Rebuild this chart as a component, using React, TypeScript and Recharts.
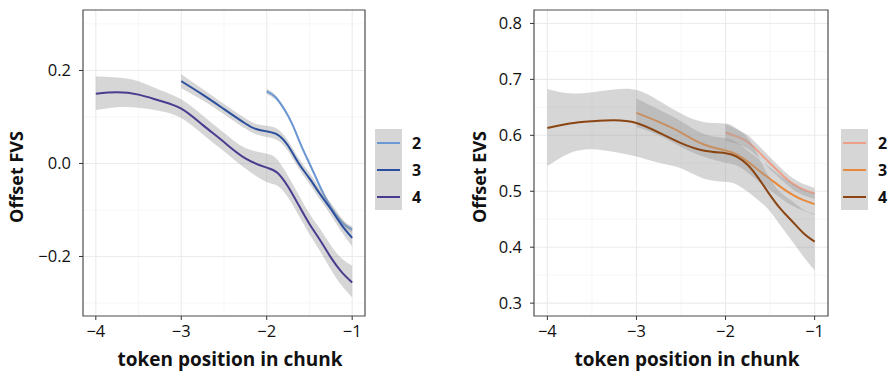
import { ComposedChart, Area, Line, XAxis, YAxis, CartesianGrid, ReferenceArea } from 'recharts'

// ---- left panel (FVS) ----
const fvs4X = [-4, -3.75, -3.5, -3.25, -3, -2.75, -2.5, -2.25, -2, -1.875, -1.75, -1.625, -1.5, -1.375, -1.25, -1.125, -1]
const fvs4Y = [0.15, 0.153, 0.148, 0.135, 0.118, 0.083, 0.046, 0.011, -0.009, -0.02, -0.05, -0.09, -0.13, -0.165, -0.202, -0.233, -0.256]
const fvs4Lo = [0.115, 0.121, 0.12, 0.113, 0.098, 0.063, 0.026, -0.011, -0.04, -0.048, -0.073, -0.112, -0.152, -0.189, -0.228, -0.262, -0.288]
const fvs4Hi = [0.187, 0.185, 0.177, 0.158, 0.138, 0.103, 0.066, 0.033, 0.021, 0.008, -0.027, -0.068, -0.108, -0.141, -0.176, -0.204, -0.22]

const fvs3X = [-3, -2.75, -2.5, -2.25, -2.125, -2, -1.875, -1.75, -1.625, -1.5, -1.375, -1.25, -1.125, -1]
const fvs3Y = [0.177, 0.148, 0.117, 0.086, 0.074, 0.069, 0.062, 0.038, 0.0, -0.032, -0.066, -0.098, -0.132, -0.16]
const fvs3Lo = [0.162, 0.136, 0.106, 0.075, 0.063, 0.057, 0.05, 0.027, -0.011, -0.044, -0.078, -0.111, -0.147, -0.178]
const fvs3Hi = [0.192, 0.16, 0.128, 0.097, 0.085, 0.081, 0.074, 0.049, 0.011, -0.02, -0.054, -0.085, -0.117, -0.142]

const fvs2X = [-2, -1.9, -1.8, -1.7, -1.6, -1.5, -1.4, -1.3, -1.2, -1.1, -1]
const fvs2Y = [0.155, 0.143, 0.118, 0.084, 0.04, 0.0, -0.04, -0.078, -0.108, -0.13, -0.142]
const fvs2Lo = [0.149, 0.138, 0.114, 0.08, 0.036, -0.004, -0.044, -0.082, -0.113, -0.136, -0.149]
const fvs2Hi = [0.161, 0.148, 0.122, 0.088, 0.044, 0.004, -0.036, -0.074, -0.103, -0.124, -0.135]

// ---- right panel (EVS) ----
const evs4X = [-4, -3.75, -3.5, -3.25, -3, -2.75, -2.5, -2.25, -2, -1.875, -1.75, -1.625, -1.5, -1.375, -1.25, -1.125, -1]
const evs4Y = [0.613, 0.621, 0.625, 0.627, 0.622, 0.605, 0.586, 0.573, 0.568, 0.562, 0.547, 0.522, 0.493, 0.467, 0.446, 0.425, 0.41]
const evs4Lo = [0.545, 0.568, 0.575, 0.57, 0.562, 0.551, 0.541, 0.523, 0.517, 0.512, 0.499, 0.483, 0.464, 0.437, 0.41, 0.383, 0.359]
const evs4Hi = [0.683, 0.675, 0.677, 0.682, 0.681, 0.662, 0.639, 0.624, 0.621, 0.612, 0.595, 0.561, 0.522, 0.497, 0.482, 0.467, 0.46]

const evs3X = [-3, -2.75, -2.5, -2.25, -2, -1.875, -1.75, -1.625, -1.5, -1.375, -1.25, -1.125, -1]
const evs3Y = [0.64, 0.624, 0.605, 0.584, 0.573, 0.566, 0.553, 0.537, 0.522, 0.507, 0.494, 0.484, 0.477]
const evs3Lo = [0.615, 0.6, 0.579, 0.562, 0.551, 0.546, 0.533, 0.517, 0.502, 0.487, 0.474, 0.465, 0.458]
const evs3Hi = [0.666, 0.646, 0.625, 0.603, 0.595, 0.587, 0.573, 0.557, 0.542, 0.527, 0.514, 0.503, 0.496]

const evs2X = [-2, -1.875, -1.75, -1.625, -1.5, -1.375, -1.25, -1.125, -1]
const evs2Y = [0.605, 0.598, 0.588, 0.57, 0.55, 0.531, 0.514, 0.503, 0.496]
const evs2Lo = [0.59, 0.585, 0.576, 0.559, 0.539, 0.521, 0.504, 0.493, 0.486]
const evs2Hi = [0.62, 0.611, 0.6, 0.581, 0.561, 0.541, 0.524, 0.513, 0.506]

const xTicks = [-4, -3, -2, -1]
const xMinor = [-3.5, -2.5, -1.5]
const fvsTicks = [-0.2, 0, 0.2]
const fvsMinor = [-0.3, -0.1, 0.1, 0.3]
const evsTicks = [0.3, 0.4, 0.5, 0.6, 0.7, 0.8]
const evsMinor = [0.35, 0.45, 0.55, 0.65, 0.75]
const legendLabels = ['2', '3', '4']
const blues = ['#6b97d4', '#2b4f9e', '#4b3b8f']
const oranges = ['#ee9f88', '#e8893c', '#8b4513']

const build = (xs: number[], ys: number[], lo: number[], hi: number[]) =>
  xs.map((x, i) => ({ x, y: ys[i], band: [lo[i], hi[i]] }))

const fvsSeries = [
  build(fvs2X, fvs2Y, fvs2Lo, fvs2Hi),
  build(fvs3X, fvs3Y, fvs3Lo, fvs3Hi),
  build(fvs4X, fvs4Y, fvs4Lo, fvs4Hi),
]
const evsSeries = [
  build(evs2X, evs2Y, evs2Lo, evs2Hi),
  build(evs3X, evs3Y, evs3Lo, evs3Hi),
  build(evs4X, evs4Y, evs4Lo, evs4Hi),
]

const FONT = '"Open Sans", sans-serif'
const fmt = (v: number) => v.toFixed(1).replace('-', '\u2212')
const fmtX = (v: number) => String(v).replace('-', '\u2212')

function Panel({ series, colors, yDomain, yTicks, yMinor, yWidth, width }: any) {
  return (
    <ComposedChart width={width} height={371} margin={{ top: 10, right: 2, bottom: 25, left: 0 }}>
      <CartesianGrid stroke="#f3f3f3" strokeWidth={0.7} horizontalValues={yMinor} verticalValues={xMinor} />
      <CartesianGrid stroke="#ebebeb" strokeWidth={1.1} horizontalValues={yTicks} verticalValues={xTicks} />
      <XAxis
        type="number"
        dataKey="x"
        domain={[-4.15, -0.85]}
        ticks={xTicks}
        tickFormatter={fmtX}
        allowDataOverflow
        axisLine={false}
        tickLine={{ stroke: '#333', strokeWidth: 1 }}
        tickSize={4}
        tickMargin={5}
        height={30}
        tick={{ fontSize: 16.5, fill: '#111', fontFamily: FONT }}
      />
      <YAxis
        type="number"
        domain={yDomain}
        ticks={yTicks}
        tickFormatter={fmt}
        allowDataOverflow
        axisLine={false}
        tickLine={{ stroke: '#333', strokeWidth: 1 }}
        tickSize={4}
        tickMargin={8}
        width={yWidth}
        tick={{ fontSize: 16.5, fill: '#111', fontFamily: FONT }}
      />
      {series.map((d: any, i: number) => [
        <Area
          key={'a' + i}
          data={d}
          dataKey="band"
          type="natural"
          stroke="none"
          fill="#999999"
          fillOpacity={0.4}
          zIndex={100 + i * 2}
          isAnimationActive={false}
        />,
        <Line
          key={'l' + i}
          data={d}
          dataKey="y"
          type="natural"
          stroke={colors[i]}
          strokeWidth={2}
          dot={false}
          zIndex={101 + i * 2}
          isAnimationActive={false}
        />,
      ])}
      <ReferenceArea
        x1={-4.15}
        x2={-0.85}
        y1={yDomain[0]}
        y2={yDomain[1]}
        fill="none"
        stroke="#4d4d4d"
        strokeWidth={1.2}
        ifOverflow="visible"
      />
    </ComposedChart>
  )
}

function LegendBox({ colors, left }: { colors: string[]; left: number }) {
  return (
    <div style={{ position: 'absolute', left, top: 129 }}>
      <div style={{ position: 'absolute', left: 0, top: 0, width: 27, height: 81, background: '#d6d6d6' }} />
      {legendLabels.map((lab, i) => (
        <div key={lab}>
          <div
            style={{
              position: 'absolute',
              left: 2,
              top: 13 + i * 27,
              width: 23,
              height: 2,
              background: colors[i],
            }}
          />
          <div
            style={{
              position: 'absolute',
              left: 37,
              top: 3 + i * 27,
              fontFamily: FONT,
              fontWeight: 700,
              fontSize: 16,
              lineHeight: '22px',
              color: '#111',
            }}
          >
            {lab}
          </div>
        </div>
      ))}
    </div>
  )
}

const titleStyle: any = {
  position: 'absolute',
  fontFamily: FONT,
  fontWeight: 700,
  fontSize: 18,
  color: '#111',
  whiteSpace: 'nowrap',
  transform: 'translate(-50%, -50%)',
}

export default function App() {
  return (
    <div style={{ position: 'absolute', left: 0, top: 0, width: 895, height: 371, background: '#fff', overflow: 'hidden' }}>
      <div style={{ position: 'absolute', left: 0, top: 0 }}>
        <Panel series={fvsSeries} colors={blues} yDomain={[-0.328, 0.33]} yTicks={fvsTicks} yMinor={fvsMinor} yWidth={83} width={367} />
      </div>
      <div style={{ position: 'absolute', left: 450, top: 0 }}>
        <Panel series={evsSeries} colors={oranges} yDomain={[0.277, 0.824]} yTicks={evsTicks} yMinor={evsMinor} yWidth={84} width={380} />
      </div>
      <LegendBox colors={blues} left={375} />
      <LegendBox colors={oranges} left={841} />
      <div style={{ ...titleStyle, left: 16, top: 177, transform: 'translate(-50%, -50%) rotate(-90deg)' }}>Offset FVS</div>
      <div style={{ ...titleStyle, left: 479, top: 177, transform: 'translate(-50%, -50%) rotate(-90deg)' }}>Offset EVS</div>
      <div style={{ ...titleStyle, left: 230, top: 359, fontSize: 19 }}>token position in chunk</div>
      <div style={{ ...titleStyle, left: 687, top: 359, fontSize: 19 }}>token position in chunk</div>
    </div>
  )
}
